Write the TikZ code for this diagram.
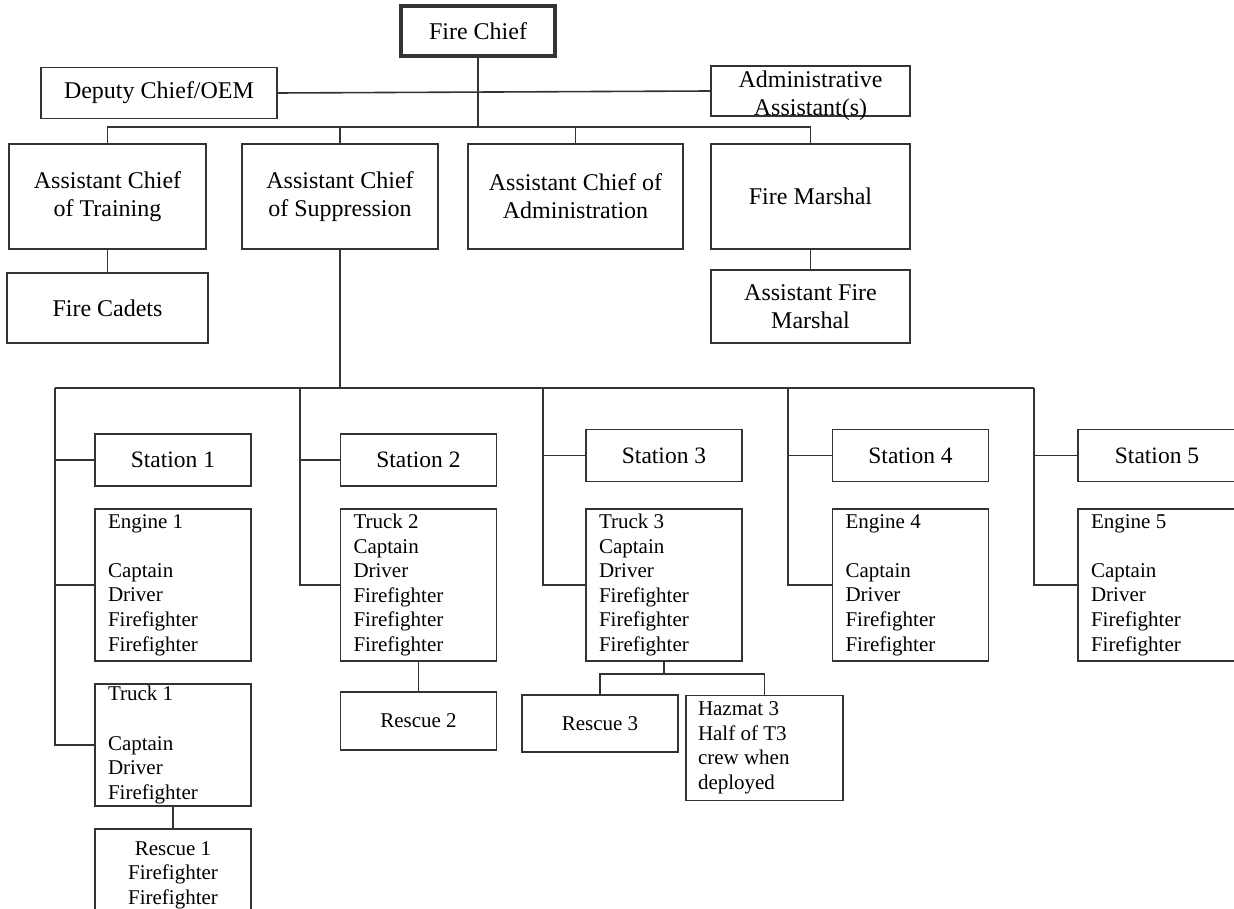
\documentclass[tikz,border=0pt]{standalone}
\usepackage{fontspec}
\setmainfont{Liberation Serif}

\begin{document}
\begin{tikzpicture}[x=1pt, y=-1pt, line width=1.6pt, draw=black!80,
    topfont/.style={font=\fontsize{24}{28}\selectfont},
    topbox/.style={draw, align=center, inner sep=0pt, topfont},
    stationbox/.style={draw, minimum width=156pt, minimum height=52pt, font=\fontsize{23.5}{28}\selectfont},
    crewbox/.style={draw, align=flush left, text width=130pt, inner xsep=13pt, inner ysep=2pt, font=\fontsize{21}{24.6}\selectfont},
    rescuebox/.style={draw, align=center, minimum width=156pt, inner sep=2pt, font=\fontsize{21}{24.6}\selectfont}]
    \useasboundingbox (0, 0) rectangle (1234, 909);

    % command staff
    \node[topbox, line width=4pt, minimum width=154pt, minimum height=50pt] (chief) at (478, 31) {Fire Chief};
    \node[topbox, minimum width=236pt, minimum height=51pt] (deputy) at (159, 93) {Deputy Chief/OEM};
    \node[draw, minimum width=199pt, minimum height=50pt,
        label={[topfont, align=center, inner sep=0pt, yshift=-5pt]center:Administrative\\Assistant(s)}] (admin) at (810.5, 91) {};
    \draw (deputy.east) to (admin.west);

    \node[topbox, minimum width=197pt, minimum height=105pt] (training) at (107.5, 196.5) {Assistant Chief\\of Training};
    \node[topbox, minimum width=196pt, minimum height=105pt] (suppression) at (340, 196.5) {Assistant Chief\\of Suppression};
    \node[topbox, minimum width=215pt, minimum height=105pt] (administration) at (575.5, 196.5) {Assistant Chief of\\Administration};
    \node[topbox, minimum width=199pt, minimum height=105pt] (marshal) at (810.5, 196.5) {Fire Marshal};
    \node[topbox, minimum width=201pt, minimum height=70pt] (cadets) at (107.5, 308) {Fire Cadets};
    \node[topbox, minimum width=199pt, minimum height=73pt] (asstmarshal) at (810.5, 306.5) {Assistant Fire\\Marshal};

    \coordinate (topbus) at (0, 127);
    \draw (chief.south) to (chief.south |- topbus);
    \draw (training.north) to (training.north |- topbus) -| (marshal.north);
    \draw (suppression.north) to (suppression.north |- topbus);
    \draw (administration.north) to (administration.north |- topbus);
    \draw (training.south) to (cadets.north);
    \draw (marshal.south) to (asstmarshal.north);

    % stations
    \node[stationbox] (st1) at (173, 460) {Station 1};
    \node[stationbox] (st2) at (418.5, 460) {Station 2};
    \node[stationbox] (st3) at (664, 455.5) {Station 3};
    \node[stationbox] (st4) at (910.5, 455.5) {Station 4};
    \node[stationbox, minimum width=158pt] (st5) at (1157, 455.5) {Station 5};

    \node[crewbox, minimum height=152pt] (engine1) at (173, 585) {Engine 1\\[24.6pt]Captain\\Driver\\Firefighter\\Firefighter};
    \node[crewbox, minimum height=121pt] (truck1) at (173, 745) {Truck 1\\[24.6pt]Captain\\Driver\\Firefighter};
    \node[crewbox, minimum height=152pt] (truck2) at (418.5, 585) {Truck 2\\Captain\\Driver\\Firefighter\\Firefighter\\Firefighter};
    \node[crewbox, minimum height=152pt] (truck3) at (664, 585) {Truck 3\\Captain\\Driver\\Firefighter\\Firefighter\\Firefighter};
    \node[crewbox, minimum height=152pt] (engine4) at (910.5, 585) {Engine 4\\[24.6pt]Captain\\Driver\\Firefighter\\Firefighter};
    \node[crewbox, minimum height=152pt, text width=132pt] (engine5) at (1157, 585) {Engine 5\\[24.6pt]Captain\\Driver\\Firefighter\\Firefighter};

    \node[rescuebox, minimum height=92pt] (rescue1) at (173, 875) {Rescue 1\\Firefighter\\Firefighter};
    \node[rescuebox, minimum height=58pt] (rescue2) at (418.5, 721) {Rescue 2};
    \node[rescuebox, minimum height=57pt] (rescue3) at (600, 723.5) {Rescue 3};
    \node[crewbox, minimum height=105pt, inner xsep=12pt, text width=133pt] (hazmat) at (764.5, 748) {Hazmat 3\\Half of T3\\crew when\\deployed};

    \coordinate (c1) at (55, 388);
    \coordinate (c2) at (300, 388);
    \coordinate (c3) at (543, 388);
    \coordinate (c4) at (788, 388);
    \coordinate (c5) at (1034, 388);
    \draw (suppression.south) to (suppression.south |- c1);
    \draw (c1) to (c5);

    \draw (c1) |- (truck1.west);
    \draw (c1 |- st1) to (st1.west);
    \draw (c1 |- engine1) to (engine1.west);
    \foreach \col/\st/\unit in {c2/st2/truck2, c3/st3/truck3, c4/st4/engine4, c5/st5/engine5} {
        \draw (\col) |- (\unit.west);
        \draw (\col |- \st) to (\st.west);
    }

    \draw (truck1.south) to (rescue1.north);
    \draw (truck2.south) to (rescue2.north);
    \draw (truck3.south) to ++(0, 12) -| (rescue3.north);
    \draw (truck3.south) to ++(0, 12) -| (hazmat.north);
\end{tikzpicture}
\end{document}
